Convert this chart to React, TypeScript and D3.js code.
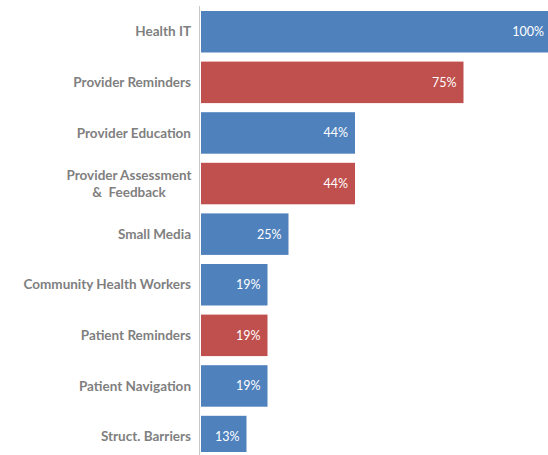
import React from "react";
import * as d3 from "d3";

const categories = [
  ["Health IT"],
  ["Provider Reminders"],
  ["Provider Education"],
  ["Provider Assessment", "&  Feedback"],
  ["Small Media"],
  ["Community Health Workers"],
  ["Patient Reminders"],
  ["Patient Navigation"],
  ["Struct. Barriers"],
];
const values = [1.0, 0.75, 0.44, 0.44, 0.25, 0.19, 0.19, 0.19, 0.13];
const groups = ["a", "b", "a", "b", "a", "a", "b", "a", "a"];
const valueLabels = ["100%", "75%", "44%", "44%", "25%", "19%", "19%", "19%", "13%"];

const W = 548;
const H = 455;
const colors: Record<string, string> = { a: "#4F81BD", b: "#C0504D" };

export default function App() {
  const keys = categories.map((_, i) => String(i));
  const x = d3.scaleLinear().domain([0, 1]).range([201, 551]);
  const y = d3
    .scaleBand<string>()
    .domain(keys)
    .range([6.45, 6.45 + 9 * 50.6])
    .paddingInner(0.18)
    .paddingOuter(0.09);
  const font = "Lato, 'Open Sans', sans-serif";
  return (
    <svg
      width={W}
      height={H}
      style={{ position: "absolute", left: 0, top: 0, background: "#fff" }}
    >
      <defs>
        <clipPath id="plot">
          <rect x={0} y={0} width={W} height={452} />
        </clipPath>
      </defs>
      <g clipPath="url(#plot)">
        {values.map((v, i) => (
          <rect
            key={i}
            x={x(0)}
            y={y(keys[i])}
            width={x(v) - x(0)}
            height={y.bandwidth()}
            fill={colors[groups[i]]}
          />
        ))}
      </g>
      <line x1={199.5} x2={199.5} y1={6} y2={H} stroke="#c8c8c8" strokeWidth={1} />
      {values.map((v, i) => (
        <text
          key={"v" + i}
          x={Math.min(x(v), 551) - 7}
          y={(y(keys[i]) as number) + y.bandwidth() / 2}
          dy="0.35em"
          textAnchor="end"
          fill="#ffffff"
          fontFamily={font}
          fontSize={12.5}
        >
          {valueLabels[i]}
        </text>
      ))}
      {categories.map((lines, i) => {
        const cy = (y(keys[i]) as number) + y.bandwidth() / 2;
        if (lines.length === 1) {
          return (
            <text
              key={"c" + i}
              x={191}
              y={cy}
              dy="0.35em"
              textAnchor="end"
              fill="#7f7f7f"
              fontFamily={font}
              fontWeight="bold"
              fontSize={13.5}
            >
              {lines[0]}
            </text>
          );
        }
        return (
          <text
            key={"c" + i}
            x={129}
            textAnchor="middle"
            fill="#7f7f7f"
            fontFamily={font}
            fontWeight="bold"
            fontSize={13.5}
            style={{ whiteSpace: "pre" }}
          >
            {lines.map((l, j) => (
              <tspan key={j} x={129} y={cy + (j - (lines.length - 1) / 2) * 17} dy="0.35em">
                {l}
              </tspan>
            ))}
          </text>
        );
      })}
    </svg>
  );
}
